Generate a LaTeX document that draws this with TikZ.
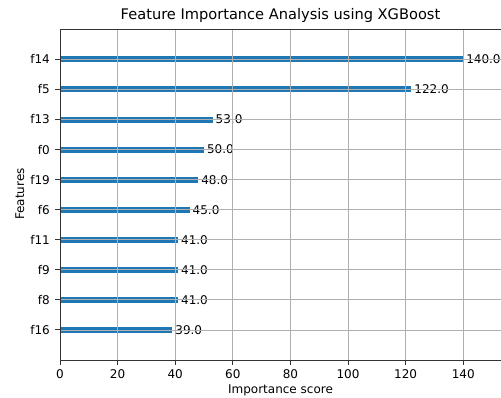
\documentclass[tikz,border=0pt]{standalone}
\usepackage{fontspec}
\setmainfont{DejaVu Sans}
\definecolor{barblue}{HTML}{1F77B4}
\definecolor{gridgray}{HTML}{B0B0B0}
\tikzset{
  bar/.style={fill=barblue},
  gridline/.style={draw=gridgray, line width=0.8pt},
  spine/.style={draw=black!80, line width=0.9pt},
  ticktext/.style={inner sep=0pt, font=\fontsize{12}{14.4}\selectfont},
}
\begin{document}
\begin{tikzpicture}[x=1pt, y=1pt]
\useasboundingbox (0,0) rectangle (501,398);
\begin{scope}[shift={(60,38)}, x=2.88pt, y=30.06pt]
% bars and their values
\foreach \feat/\score [count=\i from 0] in {f14/140,f5/122,f13/53,f0/50,f19/48,f6/45,f11/41,f9/41,f8/41,f16/39} {
  \fill[bar] (0,10-\i-0.1) rectangle (\score,10-\i+0.1);
  \node[ticktext, anchor=west] (val-\i) at (\score+1,10-\i) {\score.0};
  \node[ticktext, anchor=east] (feat-\i) at ([xshift=-10pt]0,10-\i) {\feat};
}
% grid
\foreach \v in {0,20,...,140}
  \draw[gridline] (\v,0) -- (\v,11);
\foreach \i in {0,...,9}
  \draw[gridline] (0,10-\i) -- (154,10-\i);
% axes
\draw[spine] (154,11) -- (0,11) -- (0,0) -- (154,0);
\foreach \v in {0,20,...,140} {
  \draw[spine] (\v,0) -- ++(0,-5pt);
  \node[ticktext, anchor=base] (tick-\v) at ([yshift=-19pt]\v,0) {\v};
}
\foreach \i in {0,...,9}
  \draw[spine] (0,10-\i) -- ++(-5pt,0);
\end{scope}
\node[ticktext, font=\fontsize{14.6}{17.5}\selectfont, anchor=base] (title) at (280.5,378) {Feature Importance Analysis using XGBoost};
\node[ticktext, anchor=base] (xlabel) at (280.5,4.5) {Importance score};
\node[ticktext, rotate=90, anchor=base] (ylabel) at (24,204) {Features};
\end{tikzpicture}
\end{document}
